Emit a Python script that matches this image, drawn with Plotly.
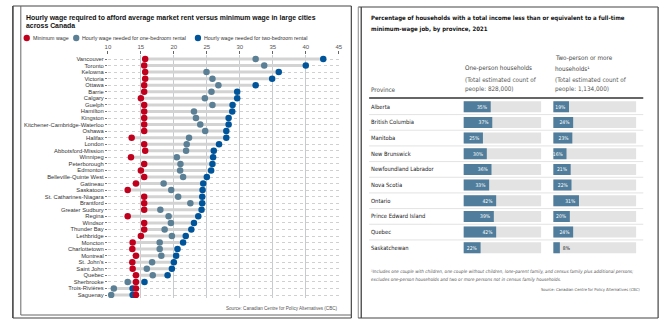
import plotly.graph_objects as go

W, H = 672, 325

# ---------------- data: left panel ----------------
cities = ["Vancouver", "Toronto", "Kelowna", "Victoria", "Ottawa", "Barrie", "Calgary", "Guelph",
          "Hamilton", "Kingston", "Kitchener-Cambridge-Waterloo", "Oshawa", "Halifax", "London",
          "Abbotsford-Mission", "Winnipeg", "Peterborough", "Edmonton", "Belleville-Quinte West",
          "Gatineau", "Saskatoon", "St. Catharines-Niagara", "Brantford", "Greater Sudbury", "Regina",
          "Windsor", "Thunder Bay", "Lethbridge", "Moncton", "Charlottetown", "Montreal", "St. John's",
          "Saint John", "Quebec", "Sherbrooke", "Trois-Rivières", "Saguenay"]
min_wage = [15.65, 15.5, 15.65, 15.65, 15.5, 15.5, 15.0, 15.5, 15.5, 15.5, 15.5, 15.5, 13.6, 15.5,
            15.65, 13.5, 15.5, 15.0, 15.5, 14.25, 13.0, 15.5, 15.5, 15.5, 13.0, 15.5, 15.5, 15.0,
            13.75, 13.7, 14.25, 13.7, 13.75, 14.25, 14.25, 14.25, 14.25]
one_bed = [32.4, 33.7, 24.95, 25.85, 26.75, 25.7, 24.7, 25.85, 23.05, 23.35, 24.0, 24.75, 22.3, 21.95,
           21.85, 20.45, 21.0, 20.95, 21.4, 18.45, 19.6, 20.65, 22.5, 17.95, 19.2, 19.55, 18.6, 19.7,
           17.85, 17.85, 18.1, 16.7, 15.9, 16.8, 13.0, 10.9, 10.5]
two_bed = [42.65, 40.0, 35.9, 34.9, 32.4, 29.6, 29.6, 28.9, 28.85, 28.3, 28.3, 27.95, 27.95, 26.85,
           26.05, 25.95, 25.85, 25.65, 25.0, 24.45, 24.35, 24.3, 24.3, 24.2, 23.7, 23.05, 22.65, 21.8,
           21.4, 20.55, 20.35, 20.0, 19.7, 19.05, 15.55, 13.75, 13.75]
wage_ticks = [10, 15, 20, 25, 30, 35, 40, 45]
legend_labels = ["Minimum wage", "Hourly wage needed for one-bedroom rental",
                 "Hourly wage needed for two-bedroom rental"]

# ---------------- data: right panel ----------------
provinces = ["Alberta", "British Columbia", "Manitoba", "New Brunswick", "Newfoundland Labrador",
             "Nova Scotia", "Ontario", "Prince Edward Island", "Quebec", "Saskatchewan"]
one_person = [35, 37, 25, 30, 36, 33, 42, 39, 42, 22]
two_person = [19, 24, 23, 16, 21, 22, 31, 20, 24, 8]

RED, ONE, TWO = "#c0001c", "#5b7f95", "#00549a"
BAR, BARBG = "#4f7d9b", "#e3e3e3"
SANS = "Liberation Sans, Arial, sans-serif"
NARROW = "Liberation Sans Narrow, DejaVu Sans Condensed, Arial Narrow, Liberation Sans, sans-serif"


def px(x):
    return x / W


def py(y):
    return 1 - y / H


fig = go.Figure()

# connector lines
lx, ly = [], []
for c, a, b, d in zip(cities, min_wage, one_bed, two_bed):
    lx += [min(a, b, d), max(a, b, d), None]
    ly += [c, c, None]
fig.add_trace(go.Scatter(x=lx, y=ly, mode="lines", line=dict(color="#d3d3d3", width=3),
                         hoverinfo="skip", xaxis="x", yaxis="y"))
for vals, col, name in [(one_bed, ONE, legend_labels[1]), (two_bed, TWO, legend_labels[2]),
                        (min_wage, RED, legend_labels[0])]:
    fig.add_trace(go.Scatter(x=vals, y=cities, mode="markers", name=name,
                             marker=dict(color=col, size=6.5), xaxis="x", yaxis="y"))

# right panel bars
for vals, xa in [(one_person, "x2"), (two_person, "x3")]:
    fig.add_trace(go.Bar(x=[100] * len(provinces), y=provinces, orientation="h",
                         marker=dict(color=BARBG, line=dict(width=0)), width=0.7,
                         hoverinfo="skip", xaxis=xa, yaxis="y2"))
    fig.add_trace(go.Bar(x=vals, y=provinces, orientation="h", width=0.7,
                         marker=dict(color=BAR, line=dict(width=0)),
                         text=[f"{v}%" for v in vals],
                         textposition=["inside" if v > 12 else "outside" for v in vals],
                         insidetextanchor="end",
                         insidetextfont=dict(color="white", size=5, family=NARROW),
                         outsidetextfont=dict(color="#222", size=5, family=NARROW),
                         constraintext="none", cliponaxis=False,
                         xaxis=xa, yaxis="y2"))

n = len(cities)
row_px = (295 - 59) / (n - 1)
y_top, y_bot = 55, 298
r_top = -(59 - y_top) / row_px
r_bot = (n - 1) + (y_bot - 295) / row_px

npv = len(provinces)
fig.update_layout(
    width=W, height=H, margin=dict(l=0, r=0, t=0, b=0),
    paper_bgcolor="white", plot_bgcolor="rgba(0,0,0,0)", showlegend=False,
    barmode="overlay", font=dict(family=SANS, color="#222"),
    xaxis=dict(domain=[px(106), px(339.3)], range=[10, 45], side="top", anchor="y",
               tickvals=wage_ticks, tickfont=dict(size=6, color="#555"),
               ticks="outside", ticklen=3, tickcolor="#666", tickwidth=0.8,
               showgrid=True, gridcolor="#c5ccd0", gridwidth=1, zeroline=False, showline=False),
    yaxis=dict(domain=[py(y_bot), py(y_top)], type="category", categoryarray=cities,
               range=[r_bot, r_top], anchor="x", tickfont=dict(size=5.8, color="#333"),
               tickmode="linear", dtick=1, tick0=0,
               ticks="outside", ticklen=2, tickcolor="#777", tickwidth=0.8,
               showgrid=True, gridcolor="#d0d0d0", griddash="dot", gridwidth=1, showline=False),
    xaxis2=dict(domain=[px(465.3), px(544)], range=[0, 100], anchor="y2", visible=False),
    xaxis3=dict(domain=[px(556), px(640)], range=[0, 100], anchor="y2", visible=False),
    yaxis2=dict(domain=[py(255.6), py(98.9)], type="category", categoryarray=provinces,
                range=[npv - 0.5, -0.5], anchor="x2", visible=False),
)

ann = []


def txt(x, y, s, size, fam=SANS, col="#222", xanchor="left", yref="paper"):
    ann.append(dict(x=px(x), y=(py(y) if yref == "paper" else y), xref="paper", yref=yref,
                    xanchor=xanchor, yanchor="middle", showarrow=False, text=s,
                    font=dict(size=size, family=fam, color=col)))


# left title
txt(21, 17.5, "<b>Hourly wage required to afford average market rent versus minimum wage in large cities</b>",
    6.9, col="#111")
txt(21, 25.5, "<b>across Canada</b>", 6.9, col="#111")
# manual legend
shapes = []
for cx, col, lab in [(24, RED, legend_labels[0]), (74, ONE, legend_labels[1]), (197, TWO, legend_labels[2])]:
    r = 3.2
    shapes.append(dict(type="circle", xref="paper", yref="paper", x0=px(cx - r), x1=px(cx + r),
                       y0=py(38 + r), y1=py(38 - r), fillcolor=col, line=dict(width=0)))
    txt(cx + 4, 38, lab, 5.3, col="#333")
txt(341, 308, "Source: Canadian Centre for Policy Alternatives (CBC)", 4.6, col="#555", xanchor="right")

# right title & headers
txt(370, 17.5, "<b>Percentage of households with a total income less than or equivalent to a full-time</b>",
    6.0, fam=NARROW, col="#111")
txt(370, 29, "<b>minimum-wage job, by province, 2021</b>", 6.0, fam=NARROW, col="#111")
HC = "#444"
txt(370, 89, "Province", 6.3, fam=NARROW, col=HC)
txt(465, 68, "One-person households", 6.3, fam=NARROW, col=HC)
txt(465, 79, "(Total estimated count of", 6.3, fam=NARROW, col="#555")
txt(465, 89, "people: 828,000)", 6.3, fam=NARROW, col="#555")
txt(556, 58, "Two-person or more", 6.3, fam=NARROW, col=HC)
txt(556, 68, "households¹", 6.3, fam=NARROW, col=HC)
txt(556, 79, "(Total estimated count of", 6.3, fam=NARROW, col="#555")
txt(556, 89, "people: 1,134,000)", 6.3, fam=NARROW, col="#555")
for p in provinces:
    txt(370, p, p, 5.8, fam=NARROW, col="#222", yref="y2")
txt(370, 271, "<i>¹Includes one couple with children, one couple without children, lone-parent family, and census family plus additional persons;</i>",
    4.6, fam=NARROW, col="#555")
txt(370, 279, "<i>excludes one-person households and two or more persons not in census family households.</i>",
    4.6, fam=NARROW, col="#555")
txt(646, 289, "Source: Canadian Centre for Policy Alternatives (CBC)", 4.1, fam=NARROW, col="#555",
    xanchor="right")

# header rule and row separators
shapes.append(dict(type="line", xref="paper", yref="paper", x0=px(370), x1=px(647),
                   y0=py(98), y1=py(98), line=dict(color="#333", width=1.3)))
for i in range(npv - 1):
    shapes.append(dict(type="line", xref="paper", yref="y2", x0=px(370), x1=px(647),
                       y0=i + 0.5, y1=i + 0.5, line=dict(color="#dcdcdc", width=0.8)))


def seg(x0, y0, x1, y1, col="#444", w=1.2):
    shapes.append(dict(type="line", xref="paper", yref="paper", x0=px(x0), x1=px(x1),
                       y0=py(y0), y1=py(y1), line=dict(color=col, width=w)))


# left panel frame
seg(10, 6, 352, 6)
seg(10, 6, 10, 318, w=1.6)
seg(10, 318, 352, 318)
seg(352, 6, 352, 318)
seg(18, 6, 18, 315, col="#666", w=1)
seg(18, 315, 352, 315, col="#666", w=1)
# right panel frame
seg(359, 7, 662, 7)
seg(359, 7, 359, 318, col="#888", w=1)
seg(362, 7, 362, 318, w=1.3)
seg(359, 318, 662, 318)
seg(662, 7, 662, 318)

fig.update_layout(annotations=ann, shapes=shapes)
fig.write_html("out.html")
